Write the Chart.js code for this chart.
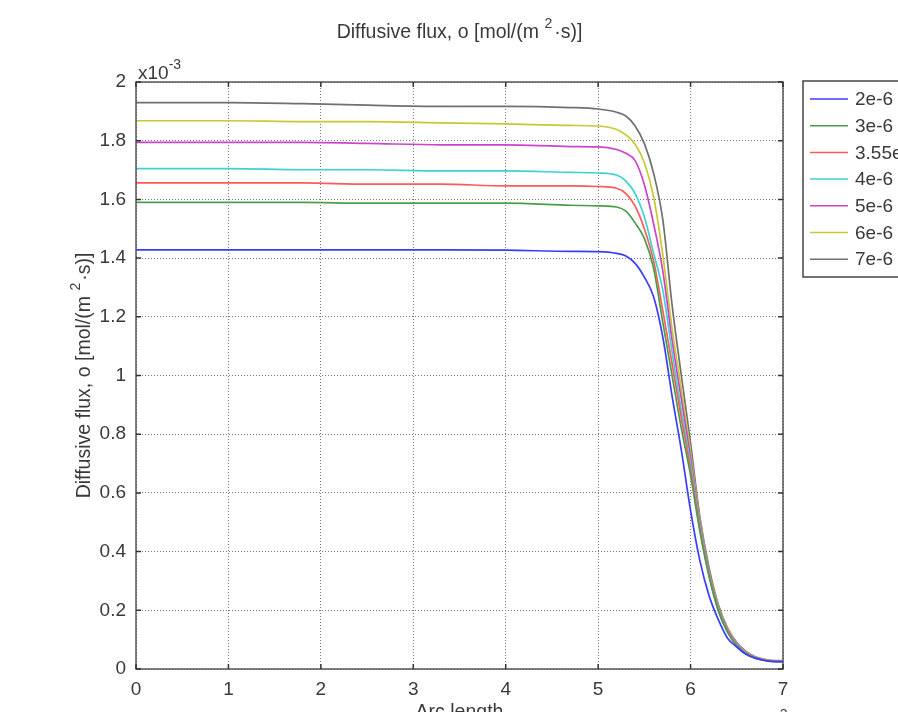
<!DOCTYPE html>
<html>
<head>
<meta charset="utf-8">
<script src="https://cdn.jsdelivr.net/npm/chart.js@4.4.0/dist/chart.umd.min.js"></script>
<style>
html, body { margin: 0; padding: 0; background: #fff; overflow: hidden; }
#wrap { width: 898px; height: 730px; }
</style>
</head>
<body>
<div id="wrap"><canvas id="flux" width="898" height="730"></canvas></div>
<script>
// arc length positions shared by all curves
const arcLength = [0, 1, 1.8, 2.5, 3.3, 4, 4.7, 5, 5.2, 5.3, 5.4, 5.5, 5.6, 5.7, 5.8, 5.9, 6, 6.1, 6.2, 6.3, 6.4, 6.5, 6.6, 6.7, 6.8, 6.9, 7];

// diffusive flux, units of 1e-3 mol/(m^2*s)
const flux2e6 = [1.428, 1.428, 1.428, 1.428, 1.428, 1.427, 1.423, 1.422, 1.416, 1.407, 1.382, 1.335, 1.268, 1.13, 0.93, 0.746, 0.54, 0.37, 0.25, 0.168, 0.105, 0.075, 0.05, 0.037, 0.029, 0.025, 0.025];
const flux3e6 = [1.590, 1.590, 1.590, 1.587, 1.587, 1.587, 1.580, 1.578, 1.574, 1.56, 1.52, 1.467, 1.365, 1.18, 1.0, 0.82, 0.66, 0.47, 0.315, 0.198, 0.125, 0.078, 0.051, 0.037, 0.029, 0.026, 0.025];
const flux355e6 = [1.656, 1.656, 1.656, 1.652, 1.652, 1.646, 1.646, 1.644, 1.638, 1.62, 1.577, 1.50, 1.39, 1.22, 1.04, 0.855, 0.68, 0.48, 0.32, 0.20, 0.128, 0.08, 0.052, 0.038, 0.03, 0.027, 0.026];
const flux4e6 = [1.705, 1.705, 1.701, 1.701, 1.697, 1.697, 1.692, 1.690, 1.683, 1.662, 1.62, 1.54, 1.417, 1.29, 1.08, 0.88, 0.70, 0.49, 0.325, 0.205, 0.13, 0.083, 0.054, 0.039, 0.03, 0.027, 0.026];
const flux5e6 = [1.794, 1.794, 1.794, 1.791, 1.786, 1.786, 1.780, 1.779, 1.770, 1.757, 1.732, 1.65, 1.517, 1.355, 1.12, 0.92, 0.72, 0.50, 0.33, 0.21, 0.135, 0.086, 0.056, 0.04, 0.031, 0.027, 0.026];
const flux6e6 = [1.868, 1.868, 1.865, 1.865, 1.861, 1.857, 1.852, 1.850, 1.838, 1.82, 1.788, 1.725, 1.609, 1.41, 1.16, 0.955, 0.74, 0.51, 0.335, 0.215, 0.14, 0.088, 0.058, 0.041, 0.032, 0.028, 0.027];
const flux7e6 = [1.930, 1.930, 1.926, 1.921, 1.917, 1.917, 1.913, 1.908, 1.897, 1.884, 1.85, 1.79, 1.689, 1.53, 1.24, 1.0, 0.77, 0.52, 0.345, 0.22, 0.14, 0.09, 0.06, 0.042, 0.033, 0.029, 0.028];

const seriesLabels = ['2e-6', '3e-6', '3.55e-6', '4e-6', '5e-6', '6e-6', '7e-6'];
const seriesValues = [flux2e6, flux3e6, flux355e6, flux4e6, flux5e6, flux6e6, flux7e6];
const seriesColors = ['#3c3cff', '#4a9e4a', '#ff5a5a', '#3ed2d2', '#cc44cc', '#c8c832', '#707070'];

const xTicks = [0, 1, 2, 3, 4, 5, 6, 7];
const yTicks = [0, 0.2, 0.4, 0.6, 0.8, 1, 1.2, 1.4, 1.6, 1.8, 2];
const yTickLabels = ['0', '0.2', '0.4', '0.6', '0.8', '1', '1.2', '1.4', '1.6', '1.8', '2'];

const font = 'Liberation Sans';
const textColor = '#3a3a3a';

// "Diffusive flux, o [mol/(m^2·s)]" with a raised 2, drawn centred on cx
function fluxLabel(ctx, cx, cy) {
  const a = 'Diffusive flux, o [mol/(m ', sup = '2', b = '·s)]';
  ctx.font = '19.5px "' + font + '"';
  const wa = ctx.measureText(a).width, wb = ctx.measureText(b).width;
  ctx.font = '14px "' + font + '"';
  const ws = ctx.measureText(sup).width + 2;
  let x = cx - (wa + ws + wb) / 2;
  ctx.textAlign = 'left';
  ctx.textBaseline = 'alphabetic';
  ctx.font = '19.5px "' + font + '"';
  ctx.fillText(a, x, cy + 6);
  ctx.font = '14px "' + font + '"';
  ctx.fillText(sup, x + wa, cy - 4);
  ctx.font = '19.5px "' + font + '"';
  ctx.fillText(b, x + wa + ws, cy + 6);
}

// title, axis title, frame, inward ticks, exponent labels and legend box
const decor = {
  id: 'decor',
  afterDraw(chart) {
    const ctx = chart.ctx;
    const a = chart.chartArea;
    const xs = chart.scales.x, ys = chart.scales.y;
    ctx.save();
    ctx.strokeStyle = '#555';
    ctx.lineWidth = 1.5;
    ctx.strokeRect(a.left, a.top, a.right - a.left, a.bottom - a.top);

    ctx.strokeStyle = '#333';
    ctx.beginPath();
    xTicks.forEach(v => {
      const px = xs.getPixelForValue(v);
      ctx.moveTo(px, a.bottom); ctx.lineTo(px, a.bottom - 5);
      ctx.moveTo(px, a.top); ctx.lineTo(px, a.top + 5);
    });
    yTicks.forEach(v => {
      const py = ys.getPixelForValue(v);
      ctx.moveTo(a.left, py); ctx.lineTo(a.left + 5, py);
      ctx.moveTo(a.right, py); ctx.lineTo(a.right - 5, py);
    });
    ctx.stroke();

    ctx.fillStyle = textColor;
    const midX = (a.left + a.right) / 2, midY = (a.top + a.bottom) / 2;
    fluxLabel(ctx, midX, 32);
    ctx.save();
    ctx.translate(84, midY);
    ctx.rotate(-Math.PI / 2);
    fluxLabel(ctx, 0, 0);
    ctx.restore();

    // x10^-3 above the y axis
    ctx.textBaseline = 'alphabetic';
    ctx.textAlign = 'left';
    ctx.font = '19px "' + font + '"';
    ctx.fillText('x10', a.left + 2, a.top - 3);
    const w = ctx.measureText('x10').width;
    ctx.font = '14px "' + font + '"';
    ctx.fillText('-3', a.left + 2 + w, a.top - 13);

    // x10^-3 under the x axis (cut by the page edge)
    ctx.font = '19px "' + font + '"';
    ctx.fillText('x10', a.right - 36, a.bottom + 60);
    ctx.font = '14px "' + font + '"';
    ctx.fillText('-3', a.right - 8, a.bottom + 50);

    // legend
    const lx = 803, ly = 81, rowH = 26.7;
    ctx.lineWidth = 1.5;
    ctx.strokeStyle = '#444';
    ctx.fillStyle = '#fff';
    ctx.fillRect(lx, ly, 130, 196);
    ctx.strokeRect(lx, ly, 130, 196);
    ctx.font = '19px "' + font + '"';
    ctx.textBaseline = 'middle';
    chart.data.datasets.forEach((ds, i) => {
      const y = ly + 18 + i * rowH;
      ctx.strokeStyle = ds.borderColor;
      ctx.lineWidth = 1.5;
      ctx.beginPath();
      ctx.moveTo(lx + 7, y); ctx.lineTo(lx + 45, y);
      ctx.stroke();
      ctx.fillStyle = textColor;
      ctx.fillText(ds.label, lx + 52, y + 1);
    });
    ctx.restore();
  }
};

new Chart(document.getElementById('flux'), {
  type: 'line',
  data: {
    datasets: seriesLabels.map((label, i) => ({
      label: label,
      data: arcLength.map((x, j) => ({ x: x, y: seriesValues[i][j] })),
      borderColor: seriesColors[i],
      borderWidth: 1.7,
      pointRadius: 0,
      fill: false,
      cubicInterpolationMode: 'monotone'
    }))
  },
  options: {
    responsive: false,
    animation: false,
    layout: { padding: { left: 0, right: 115, top: 82, bottom: 0 } },
    plugins: {
      legend: { display: false },
      tooltip: { enabled: false },
      title: { display: false }
    },
    scales: {
      x: {
        type: 'linear',
        min: 0,
        max: 7,
        afterFit(scale) { scale.height = 61; },
        afterBuildTicks(scale) { scale.ticks = xTicks.map(v => ({ value: v })); },
        ticks: { color: textColor, font: { family: font, size: 19 }, padding: 9, maxRotation: 0 },
        grid: { color: '#777', drawTicks: false, lineWidth: 1 },
        border: { display: false, dash: [1, 2] },
        title: {
          display: true,
          text: 'Arc length',
          color: textColor,
          font: { family: font, size: 19.5 },
          padding: { top: 0, bottom: 6 }
        }
      },
      y: {
        min: 0,
        max: 2,
        afterFit(scale) { scale.width = 136; },
        afterBuildTicks(scale) { scale.ticks = yTicks.map(v => ({ value: v })); },
        ticks: {
          color: textColor,
          font: { family: font, size: 19 },
          padding: 10,
          callback: (v, i) => yTickLabels[i]
        },
        grid: { color: '#777', drawTicks: false, lineWidth: 1 },
        border: { display: false, dash: [1, 2] }
      }
    }
  },
  plugins: [decor]
});
</script>
</body>
</html>
